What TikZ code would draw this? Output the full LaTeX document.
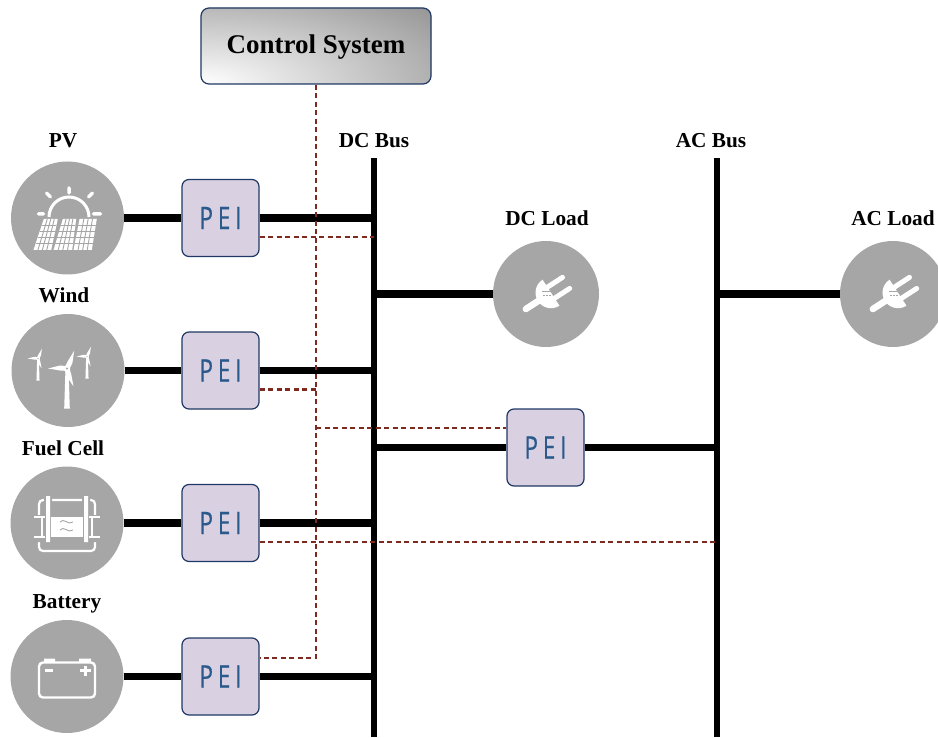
\documentclass[tikz,border=0pt]{standalone}
\usepackage{graphicx}
\usepackage{fontspec}
\setmainfont{Liberation Serif}
\newfontfamily\peifont[LetterSpace=22, FakeBold=.5]{Open Sans}
\definecolor{srcgray}{HTML}{A6A6A6}
\definecolor{edgeblue}{HTML}{1F3864}
\definecolor{peiblue}{HTML}{2A5A8C}
\definecolor{peifill}{HTML}{D9D0E2}
\definecolor{ctrlred}{HTML}{7F2A1E}
\newcommand{\peilabel}{\scalebox{.72}[1]{\fontsize{31}{31}\selectfont\peifont PEI}}
\tikzset{
  source/.style={circle, fill=srcgray, minimum size=113pt, inner sep=0pt},
  load/.style={circle, fill=srcgray, minimum size=106pt, inner sep=0pt},
  pei/.style={draw=edgeblue, line width=1.2pt, fill=peifill, rounded corners=7pt, minimum size=77pt, inner sep=0pt, text=peiblue},
  ctrlbox/.style={draw=edgeblue, line width=1.2pt, rounded corners=8pt, minimum width=230pt, minimum height=76pt, fill=black!40, path picture={\shade[inner color=white, outer color=black!40] (path picture bounding box.south west) ellipse[x radius=300, y radius=110];}, font=\fontsize{27}{29}\selectfont\bfseries, text height=20pt, text depth=4pt},
  lbl/.style={font=\fontsize{21.3}{23}\selectfont\bfseries, text height=14pt, text depth=0pt, inner sep=0pt},
  power/.style={line width=7.5pt},
  bus/.style={line width=6.5pt},
  ctrl/.style={draw=ctrlred, line width=2.6pt, dash pattern=on 5pt off 3.5pt},
  pvicon/.pic={
    \draw[white, line width=3pt] (-18.5,-1) arc[start angle=180, end angle=360, radius=20];
    \draw[white, line width=3.5pt, line cap=round] (1.5,-30) -- (1.5,-25) (-21,-25) -- (-17,-21) (25,-25) -- (21,-21) (-29,-4) -- (-24,-4) (26,-4) -- (33,-4);
    \foreach \a/\b/\c/\d in {-23.7/-9.7/-34/-16.3, -4.7/8.7/-14/4.7, 12/29.3/6/24.3}{
      \fill[white] (\a,1) -- (\b,1) -- (\d,32) -- (\c,32) -- cycle;
      \foreach \k in {.25,.5,.75}{
        \draw[srcgray, line width=.9pt] ({\a+\k*(\b-\a)},1) -- ({\c+\k*(\d-\c)},32);
      }
      \foreach \k in {.2,.4,.6,.8}{
        \draw[srcgray, line width=.9pt] ({\a+\k*(\c-\a)},{1+31*\k}) -- ({\b+\k*(\d-\b)},{1+31*\k});
      }
    }
  },
  turbine/.pic={
    \fill[white] (-1.5,0) -- (1.5,0) -- (2.8,40) -- (-2.8,40) -- cycle;
    \foreach \ang in {0,-112,110}{
      \fill[white, rotate=\ang] (0,-2.4) -- (-7,-3) -- (-19,0) -- (-7,2) -- (0,2.4) -- cycle;
    }
    \fill[white] (0,0) circle[radius=3.2];
    \fill[srcgray] (0,0) circle[radius=1.2];
  },
  windicon/.pic={
    \pic at (-1,-2) {turbine};
    \pic[scale=.55] at (-30,-12) {turbine};
    \pic[scale=.55] at (19,-14) {turbine};
  },
  fuelicon/.pic={
    \draw[white, line width=2.2pt, rounded corners=4pt] (-28,-23) rectangle (28,28);
    \fill[srcgray] (-30,-8) rectangle (-14,19) (14,-8) rectangle (30,19);
    \draw[white, line width=1.6pt] (-25,-6) -- (-25,15) (25,-6) -- (25,15);
    \fill[srcgray] (-23,-28) rectangle (-15,21) (15,-28) rectangle (23,21);
    \fill[white] (-21,-27) rectangle (-17,19) (17,-27) rectangle (21,19);
    \fill[white] (-16,-6) rectangle (16,14);
    \draw[white, line width=2.2pt] (-33,-6) -- (-22,-6) (-33,14) -- (-22,14) (22,-6) -- (33,-6) (22,14) -- (33,14);
    \draw[srcgray, line width=.9pt] (-7,-1) .. controls (-3,-6) and (1,3) .. (6,-1) (-7,7) .. controls (-3,2) and (1,11) .. (6,7);
  },
  batticon/.pic={
    \draw[white, line width=2.4pt, rounded corners=4pt] (-28,-14) rectangle (28,21);
    \fill[white] (-23,-18) rectangle (-12,-14) (12,-18) rectangle (24,-14);
    \draw[white, line width=2.4pt] (-22,-6) -- (-14,-6) (13,-6) -- (24,-6) (18.5,-11) -- (18.5,-1);
  },
  plugicon/.pic={
    \begin{scope}[shift={(5,-1.3)}, rotate=33]
      \draw[white, line width=6.5pt, line cap=round] (-30,0) -- (-5,0);
      \fill[white] (0,-15.5) arc[start angle=270, end angle=90, radius=15.5] -- cycle;
      \draw[white, line width=5pt, line cap=round] (-1,-6.6) -- (18,-6.6) (-1,6.6) -- (18,6.6);
    \end{scope}
    \draw[srcgray, line width=1pt] (-4,-2.3) -- (7,-2.3);
    \draw[srcgray, line width=1pt, dash pattern=on 2pt off 1pt] (-3,1.5) -- (6,1.5);
  },
}
\begin{document}
\begin{tikzpicture}[x=1pt, y=-1pt]
\useasboundingbox (0,0) rectangle (938,738);
\node[ctrlbox] (Ctrl) at (316,46) {Control System};
\coordinate (DC_top) at (374,158);
\coordinate (DC_bot) at (374,737);
\coordinate (AC_top) at (717,158);
\coordinate (AC_bot) at (717,737);
\node[lbl] (DC_lbl) at (374,141) {DC Bus};
\node[lbl] (AC_lbl) at (711,141) {AC Bus};
\node[source] (PV) at (67.5,218) {};
\node[source] (Wind) at (68,370.5) {};
\node[source] (Fuel) at (67,523) {};
\node[source] (Batt) at (67,676.5) {};
\node[load] (DC_load) at (546,294) {};
\node[load] (AC_load) at (893,294) {};
\node[lbl] (PV_lbl) at (63,141) {PV};
\node[lbl] (Wind_lbl) at (64,296) {Wind};
\node[lbl] (Fuel_lbl) at (63,448) {Fuel Cell};
\node[lbl] (Batt_lbl) at (67,601) {Battery};
\node[lbl] (DCL_lbl) at (547,219) {DC Load};
\node[lbl] (ACL_lbl) at (893,219) {AC Load};
\pic at (PV) {pvicon};
\pic at (Wind) {windicon};
\pic at (Fuel) {fuelicon};
\pic at (Batt) {batticon};
\pic at (DC_load) {plugicon};
\pic at (AC_load) {plugicon};
\node[pei] (PEI_0) at (220.5,218) {\peilabel};
\node[pei] (PEI_1) at (220.5,370.5) {\peilabel};
\node[pei] (PEI_2) at (220.5,523) {\peilabel};
\node[pei] (PEI_3) at (220.5,676.5) {\peilabel};
\node[pei] (PEI_4) at (545.5,447.5) {\peilabel};
\coordinate (ctrl_bot) at (316,658);
\coordinate (ctrl_mid) at (316,428);
\draw[bus] (DC_top) -- (DC_bot);
\draw[bus] (AC_top) -- (AC_bot);
\draw[power] (PV) -- (PEI_0);
\draw[power] (PEI_0) -- (PEI_0 -| DC_top);
\draw[power] (Wind) -- (PEI_1);
\draw[power] (PEI_1) -- (PEI_1 -| DC_top);
\draw[power] (Fuel) -- (PEI_2);
\draw[power] (PEI_2) -- (PEI_2 -| DC_top);
\draw[power] (Batt) -- (PEI_3);
\draw[power] (PEI_3) -- (PEI_3 -| DC_top);
\draw[power] (DC_load -| DC_top) -- (DC_load);
\draw[power] (AC_load -| AC_top) -- (AC_load);
\draw[power] (PEI_4 -| DC_top) -- (PEI_4);
\draw[power] (PEI_4) -- (PEI_4 -| AC_top);
\draw[ctrl] (Ctrl.south) -- (ctrl_bot) -- (ctrl_bot -| PEI_3.east);
\draw[ctrl] ([yshift=-19pt]PEI_0.east) -- ([yshift=-19pt]PEI_0.east -| DC_top);
\draw[ctrl] ([yshift=-19pt]PEI_1.east) -- ([yshift=-19pt]PEI_1.east -| ctrl_mid);
\draw[ctrl] (ctrl_mid) -- (ctrl_mid -| PEI_4.west);
\draw[ctrl] ([yshift=-19pt]PEI_2.east) -- ([yshift=-19pt]PEI_2.east -| AC_top);
\end{tikzpicture}
\end{document}
